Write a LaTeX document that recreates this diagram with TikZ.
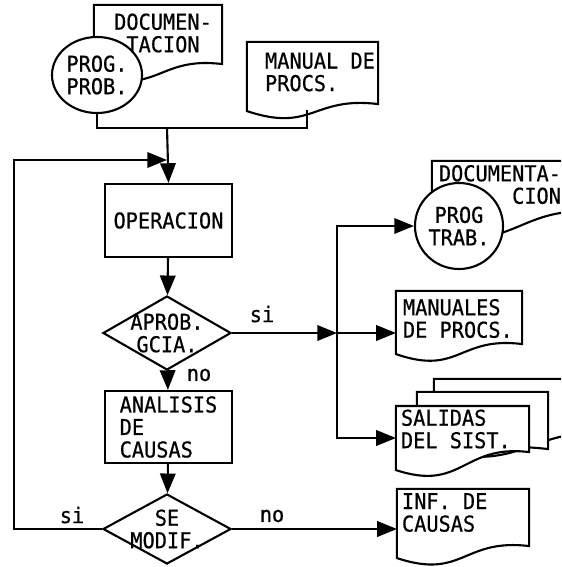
\documentclass[tikz,border=0pt]{standalone}
\usepackage{fontspec}
\newfontfamily\maquina[FakeStretch=0.93,FakeBold=0.6]{DejaVu Sans Mono}
\usetikzlibrary{shapes.geometric,arrows.meta,calc}

\tikzset{
  flecha/.style={-{Triangle[length=14pt,width=11pt]}},
  caja/.style={draw,rectangle,inner sep=0,minimum width=3.175cm},
  rombo/.style={draw,diamond,inner sep=0,minimum width=3.2cm},
  bola/.style={draw,ellipse,fill=white,inner sep=0,align=center},
  hoja/.style={rectangle,inner sep=0},
  texto/.style={inner sep=0,align=left},
}

\newcommand{\hojaborde}[3]{%
  \draw[fill=white] (#1.north west) -- (#1.north east) -- ($(#1.south east)+(0,#2)$)
    .. controls ($(#1.south east)!0.5!(#1.south west)+(0,#2-8)$)
    and ($(#1.south east)!0.5!(#1.south west)+(0,#3+22)$)
    .. ($(#1.south west)+(0,#3)$) -- cycle;}

\begin{document}
\begin{tikzpicture}[x=0.025cm,y=-0.025cm,line width=1.5pt,font=\maquina\fontsize{15.5}{16}\selectfont]
  \useasboundingbox (0,0) rectangle (561,567);
  \clip (0,0) rectangle (561,567);

  \node[hoja,minimum width=3.15cm,minimum height=1.425cm] (docA) at (158,34.5) {};
  \hojaborde{docA}{0}{10}
  \node[hoja,minimum width=3.225cm,minimum height=1.5cm] (manA) at (312.5,73) {};
  \hojaborde{manA}{0}{7}
  \node[hoja,minimum width=4.175cm,minimum height=1.225cm] (docB) at (516.5,186.5) {};
  \hojaborde{docB}{0}{20}
  \node[hoja,minimum width=3.1cm,minimum height=1.275cm] (manB) at (459,317.5) {};
  \hojaborde{manB}{0}{10}
  \node[hoja,minimum width=4.625cm,minimum height=1.3cm] (sal3) at (527.5,406) {};
  \hojaborde{sal3}{0}{18}
  \node[hoja,minimum width=3.225cm,minimum height=1.375cm] (sal2) at (482.5,420.5) {};
  \hojaborde{sal2}{0}{-8}
  \node[hoja,minimum width=3.275cm,minimum height=1cm] (sal1) at (462.5,427) {};
  \hojaborde{sal1}{4}{22}
  \node[hoja,minimum width=3.25cm,minimum height=1.375cm] (inf) at (463,517.5) {};
  \hojaborde{inf}{0}{12}

  \node[bola,minimum width=2.25cm,minimum height=1.9cm] (progprob) at (97,75) {PROG.\\PROB.};
  \node[bola,minimum width=2.2cm,minimum height=2.15cm] (progtrab) at (459,226) {PROG\\TRAB.};

  \node[texto,align=center] (docA-t) at (163,33) {DOCUMEN-\\TACION};
  \node[texto,anchor=west] (manA-t) at (264,72) {MANUAL DE\\PROCS.};
  \node[texto,align=right,anchor=north east] (docB-t) at (562,164) {DOCUMENTA-\\CION};
  \node[texto,anchor=west] (manB-t) at ($(manB.west)+(6,1)$) {MANUALES\\DE PROCS.};
  \node[texto,anchor=west] (sal1-t) at ($(sal1.west)+(4,2)$) {SALIDAS\\DEL SIST.};
  \node[texto,anchor=west] (inf-t) at ($(inf.west)+(4,-5)$) {INF. DE\\CAUSAS};

  \node[caja,minimum height=1.825cm] (oper) at (168.5,220.5) {OPERACION};
  \node[caja,minimum height=1.8cm,align=left] (analisis) at (168.5,427) {ANALISIS\\DE\\CAUSAS};
  \node[rombo,minimum height=1.85cm,label={[align=center]center:APROB.\\GCIA.}] (aprob) at (167,333) {};
  \node[rombo,minimum height=1.75cm,label={[align=center]center:SE\\MODIF.}] (semod) at (167,529) {};

  \coordinate (cruce) at (167,128);
  \coordinate (entrada) at (167,160);
  \coordinate (retorno) at (14,160);
  \coordinate (manstub) at (307,110);
  \coordinate (bus) at (337,333);

  \draw (progprob.south) |- (manstub |- cruce) -- (manstub);
  \draw[flecha] (cruce) -- (oper.north);
  \draw[flecha] (semod.west) -| (retorno) -- (entrada);
  \draw[flecha] (oper) -- (aprob);
  \draw[flecha] (aprob) -- (analisis);
  \draw[flecha] (analisis) -- (semod);
  \draw[flecha] (aprob.east) -- (bus);
  \draw[flecha] (bus) -- (bus -| manB.west);
  \draw[flecha] (bus) |- (progtrab.west);
  \draw[flecha] (bus) |- ($(sal1.west)+(0,11)$);
  \draw[flecha] (semod.east) -- (semod.east -| inf.west);

  \node (si1) at (262,314) {si};
  \node (no1) at (199,375) {no};
  \node (si2) at (72,515) {si};
  \node (no2) at (272,516) {no};
\end{tikzpicture}
\end{document}
